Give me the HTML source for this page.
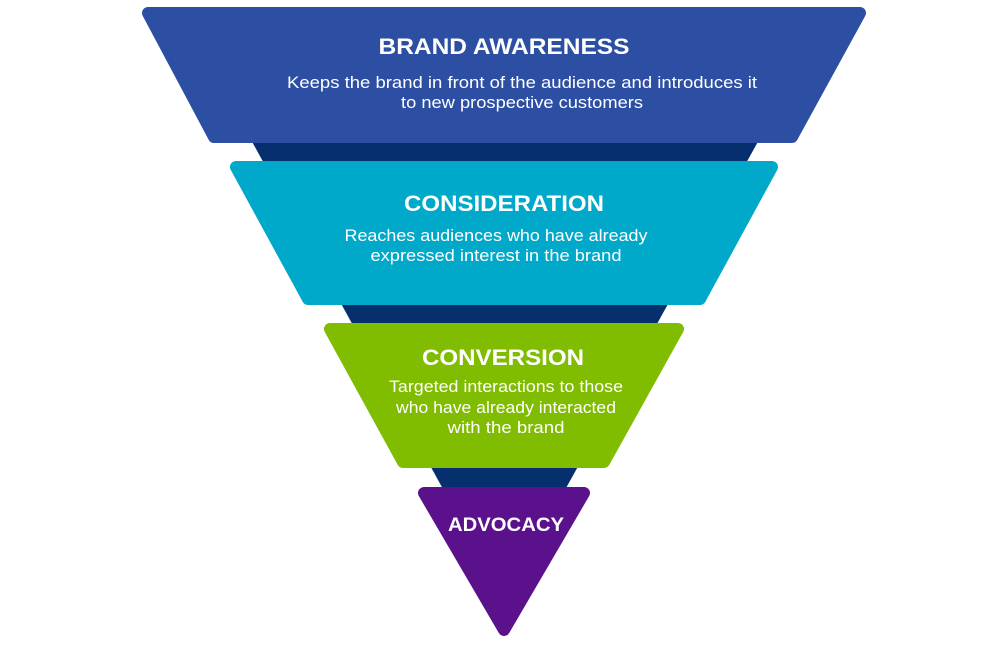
<!DOCTYPE html>
<html><head><style>
html,body{margin:0;padding:0;background:#fff;}
svg{display:block;}
text{font-family:"Liberation Sans",sans-serif;fill:#fff;text-anchor:middle;}
.t{font-weight:bold;font-size:22px;}
.s{font-size:17px;}
</style></head><body>
<svg width="1000" height="650" viewBox="0 0 1000 650">
<polygon points="250,138 760,138 504,600" fill="#062f6e"/>
<g stroke-linejoin="round" stroke-width="12">
<polygon points="148,13 860,13 792,137 214,137" fill="#2d4fa3" stroke="#2d4fa3"/>
<polygon points="236,167 772,167 700,299 308,299" fill="#00a9c9" stroke="#00a9c9"/>
<polygon points="330,329 678,329 604,462 403,462" fill="#80bc00" stroke="#80bc00"/>
<polygon points="424,493 584,493 504,630" fill="#5c118c" stroke="#5c118c"/>
</g>
<g lengthAdjust="spacingAndGlyphs">
<text class="t" x="504" y="54" textLength="251" lengthAdjust="spacingAndGlyphs">BRAND AWARENESS</text>
<text class="s" x="522" y="88" textLength="470" lengthAdjust="spacingAndGlyphs">Keeps the brand in front of the audience and introduces it</text>
<text class="s" x="522" y="108" textLength="242" lengthAdjust="spacingAndGlyphs">to new prospective customers</text>
<text class="t" x="504" y="211" textLength="200" lengthAdjust="spacingAndGlyphs">CONSIDERATION</text>
<text class="s" x="496" y="241" textLength="303" lengthAdjust="spacingAndGlyphs">Reaches audiences who have already</text>
<text class="s" x="496" y="261" textLength="251" lengthAdjust="spacingAndGlyphs">expressed interest in the brand</text>
<text class="t" x="503" y="365" textLength="162" lengthAdjust="spacingAndGlyphs">CONVERSION</text>
<text class="s" x="506" y="392" textLength="234" lengthAdjust="spacingAndGlyphs">Targeted interactions to those</text>
<text class="s" x="506" y="413" textLength="220" lengthAdjust="spacingAndGlyphs">who have already interacted</text>
<text class="s" x="506" y="433" textLength="117" lengthAdjust="spacingAndGlyphs">with the brand</text>
<text class="t" x="506" y="531" style="font-size:19px" textLength="116" lengthAdjust="spacingAndGlyphs">ADVOCACY</text>
</g>
</svg>
</body></html>
